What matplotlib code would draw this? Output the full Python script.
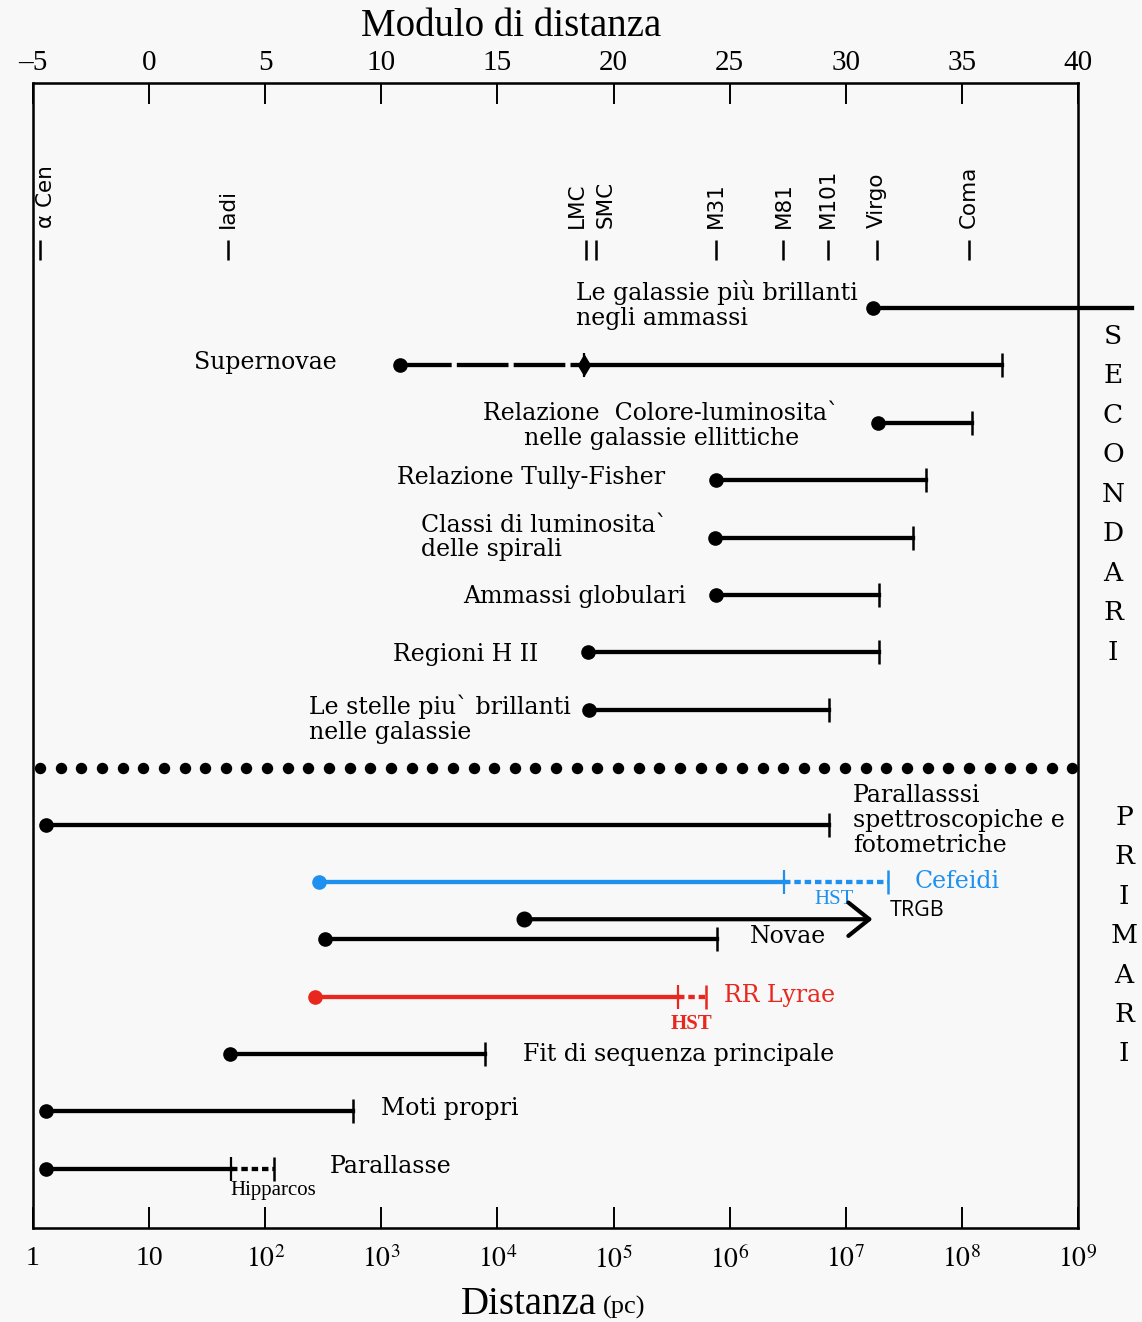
import numpy as np
import matplotlib
matplotlib.use('Agg')
import matplotlib.pyplot as plt
import matplotlib.transforms as mtransforms

# reference objects on the distance scale (pc)
objects = ['\u03b1 Cen', 'Iadi', 'LMC', 'SMC', 'M31', 'M81', 'M101', 'Virgo', 'Coma']
object_dist = [1.15, 48, 5.8e4, 7.1e4, 7.6e5, 2.9e6, 7.0e6, 1.86e7, 1.15e8]
object_label_shift = [0.05, 0, -0.08, 0.08, 0, 0, 0, 0, 0]  # in decades

# secondary indicators: row, start, end (pc)
sec_names = ['Le galassie pi\u00f9 brillanti\nnegli ammassi', 'Supernovae',
             'Relazione  Colore-luminosita`\nnelle galassie ellittiche',
             'Relazione Tully-Fisher', 'Classi di luminosita`\ndelle spirali',
             'Ammassi globulari', 'Regioni H II',
             'Le stelle piu` brillanti\nnelle galassie']
sec_rows = [0, 1, 2, 3, 4, 5, 6, 7]
sec_start = [1.7e7, 1.45e3, 1.9e7, 7.6e5, 7.4e5, 7.6e5, 6.0e4, 6.2e4]
sec_end = [2.9e9, 2.2e8, 1.23e8, 4.9e7, 3.8e7, 1.95e7, 1.95e7, 7.1e6]
sec_label_x = [4.7e4, 410, 2.57e5, 2.8e5, 2.2e3, 4.2e5, 2.25e4, 240]
sec_label_ha = ['left', 'right', 'center', 'right', 'left', 'right', 'right', 'left']
sec_label_dy = [-0.05, -0.05, 0.06, -0.05, 0.0, 0.03, 0.03, 0.17]
supernovae_break = 5.6e4   # dashed up to here

# primary indicators
pri_names = ['Parallasssi\nspettroscopiche e\nfotometriche', 'Cefeidi', 'Novae',
             'RR Lyrae', 'Fit di sequenza principale', 'Moti propri', 'Parallasse']
pri_rows = [9, 10, 11, 12, 13, 14, 15]
pri_start = [1.3, 290, 330, 270, 50, 1.3, 1.3]
pri_end = [7.1e6, 2.3e7, 7.8e5, 6.3e5, 7.8e3, 575, 120]
pri_break = [None, 2.95e6, None, 3.6e5, None, None, 51]   # solid up to here, dotted beyond
pri_colors = ['black', '#1e90f0', 'black', '#e8281e', 'black', 'black', 'black']
pri_label_x = [1.15e7, 3.9e7, 1.5e6, 9.0e5, 1.65e4, 1.0e3, 360]
pri_label_dy = [-0.07, 0.0, -0.05, -0.02, 0.0, -0.05, -0.05]
break_notes = [None, 'HST', None, 'HST', None, None, 'Hipparcos']
break_note_x = [None, 7.9e6, None, 4.65e5, None, None, 50]
break_note_ha = [None, 'center', None, 'center', None, None, 'left']
break_note_dy = [None, 0.31, None, 0.47, None, None, 0.38]

# TRGB arrow
trgb_row = 10.65
trgb_start = 1.7e4
trgb_end = 1.7e7

mod_ticks = [-5, 0, 5, 10, 15, 20, 25, 30, 35, 40]
dist_ticks = [1, 10, 1e2, 1e3, 1e4, 1e5, 1e6, 1e7, 1e8, 1e9]
dist_ticklabels = ['1', '10'] + ['$10^{%d}$' % k for k in range(2, 10)]

serif = 'DejaVu Serif'
plt.rcParams['mathtext.fontset'] = 'stix'

fig = plt.figure(figsize=(11.42, 13.22), dpi=100, facecolor='#f8f8f8')
ax = fig.add_axes([0.0289, 0.0711, 0.9151, 0.8661])
ax.set_facecolor('#f8f8f8')
ax.set_xscale('log')
ax.set_xlim(1, 1e9)
ax.set_ylim(16.03, -3.92)
ax.set_yticks([])
ax.minorticks_off()
for s in ax.spines.values():
    s.set_linewidth(1.8)

ax.set_xticks(dist_ticks)
ax.set_xticklabels(dist_ticklabels, fontsize=20, family='Liberation Serif')
ax.tick_params(axis='x', direction='in', length=15, width=1.4, pad=13, which='major')
ax.tick_params(axis='x', which='minor', length=0)
fig.text(597 / 1142, 0.006, 'Distanza', ha='right', va='baseline', fontsize=28,
         family='Liberation Serif')
fig.text(603 / 1142, 0.006, '(pc)', ha='left', va='baseline', fontsize=19,
         family='Liberation Serif')

# distance modulus on top: m = 5 log d - 5 spans -5..40 over 1..1e9 pc
top = ax.twiny()
top.set_xlim(5 * np.log10(1) - 5, 5 * np.log10(1e9) - 5)
top.set_xticks(mod_ticks)
top.set_xticklabels(['\u20135'] + [str(m) for m in mod_ticks[1:]], fontsize=21,
                    family='Liberation Serif')
top.tick_params(axis='x', direction='in', length=15, width=1.4, pad=5)
top.minorticks_off()
fig.text(511 / 1142, 1 - 27 / 1322, 'Modulo di distanza', ha='center', va='center',
         fontsize=28, family='Liberation Serif')

lw = 3.1
ms = 9.5
cap = 17

# reference objects
for name, d, sh in zip(objects, object_dist, object_label_shift):
    ax.vlines(d, -1.19, -0.84, color='black', lw=1.8)
    ax.text(d * 10 ** sh, -1.39, name, rotation=90, ha='center', va='bottom',
            fontsize=15.5, family='DejaVu Sans')

# secondary
for i, (name, r, a, b) in enumerate(zip(sec_names, sec_rows, sec_start, sec_end)):
    if i == 1:
        ax.plot([a, supernovae_break], [r, r], color='black', lw=lw,
                linestyle=(0, (12, 1.2)))
        ax.plot([supernovae_break, b], [r, r], color='black', lw=lw)
        ax.plot(supernovae_break, r, marker='d', color='black', ms=10)
        ax.plot(supernovae_break, r, marker='|', color='black', ms=cap, mew=1.6)
    else:
        ax.plot([a, b], [r, r], color='black', lw=lw, clip_on=(i != 0))
    ax.plot(a, r, 'o', color='black', ms=ms)
    if i != 0:
        ax.plot(b, r, marker='|', color='black', ms=cap, mew=1.8)
    ax.text(sec_label_x[i], r + sec_label_dy[i], name, ha=sec_label_ha[i], va='center',
            fontsize=17, family=serif, linespacing=1.1)

# separator between secondary and primary indicators
sep_x = np.geomspace(1.15, 8.9e8, 51)
ax.plot(sep_x, np.full(sep_x.size, 8.02), 'o', color='black', ms=7.2, clip_on=False)

# primary
for i, (name, r, a, b) in enumerate(zip(pri_names, pri_rows, pri_start, pri_end)):
    c = pri_colors[i]
    br = pri_break[i]
    if br is None:
        ax.plot([a, b], [r, r], color=c, lw=lw)
    else:
        ax.plot([a, br], [r, r], color=c, lw=lw)
        ax.plot([br, b], [r, r], color=c, lw=lw, linestyle=(0, (1.5, 0.9)))
        ax.plot(br, r, marker='|', color=c, ms=cap, mew=1.6)
        weight = 'bold' if break_notes[i] == 'HST' and c != '#1e90f0' else 'normal'
        ax.text(break_note_x[i], r + break_note_dy[i], break_notes[i],
                ha=break_note_ha[i], va='center', color=c, fontsize=15,
                family='Liberation Serif', weight=weight)
    ax.plot(a, r, 'o', color=c, ms=ms)
    ax.plot(b, r, marker='|', color=c, ms=cap, mew=1.8)
    ax.text(pri_label_x[i], r + pri_label_dy[i], name, ha='left', va='center',
            color=c, fontsize=17, family=serif, linespacing=1.1)

# TRGB
ax.plot(trgb_start, trgb_row, 'o', color='black', ms=ms + 1)
ax.annotate('', xy=(trgb_end, trgb_row), xytext=(trgb_start, trgb_row),
            arrowprops=dict(arrowstyle='->,head_length=0.75,head_width=0.6',
                            lw=3, color='black', mutation_scale=20, shrinkA=0, shrinkB=0))
ax.text(2.4e7, trgb_row - 0.15, 'TRGB', ha='left', va='center', fontsize=15.5,
        family='Open Sans')

# side labels
blend = mtransforms.blended_transform_factory(ax.transAxes, ax.transData)
for k, ch in enumerate('SECONDARI'):
    ax.text(1.0335, 0.49 + k * 0.688, ch, transform=blend, ha='center', va='center',
            fontsize=19, family=serif, clip_on=False)
for k, ch in enumerate('PRIMARI'):
    ax.text(1.044, 8.87 + k * 0.688, ch, transform=blend, ha='center', va='center',
            fontsize=19, family=serif, clip_on=False)

fig.savefig('out.png', dpi=100, facecolor=fig.get_facecolor())
